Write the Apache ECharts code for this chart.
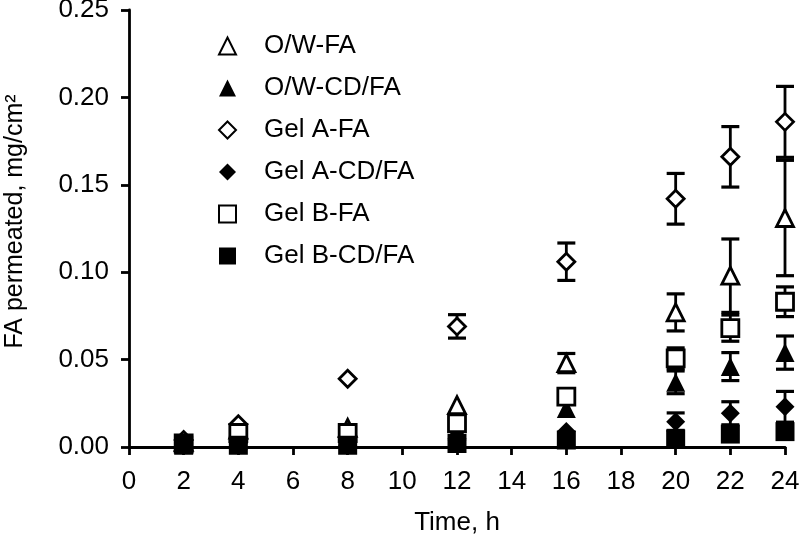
<!DOCTYPE html>
<html>
<head>
<meta charset="utf-8">
<script src="https://cdn.jsdelivr.net/npm/echarts@6/dist/echarts.min.js"></script>
<style>
html,body{margin:0;padding:0;background:#fff;}
#chart{width:799px;height:537px;}
</style>
</head>
<body>
<div id="chart"></div>
<script>
// ---- data ----
const times = [2, 4, 8, 12, 16, 20, 22, 24];
const seriesNames = ['O/W-FA', 'O/W-CD/FA', 'Gel A-FA', 'Gel A-CD/FA', 'Gel B-FA', 'Gel B-CD/FA'];
const owFA     = [0.003, 0.010, 0.011, 0.024, 0.048, 0.077, 0.098, 0.131];
const owFAErr  = [0, 0, 0, 0, 0.0055, 0.0106, 0.021, 0.033];
const owCD     = [0.002, 0.004, 0.006, 0.010, 0.022, 0.037, 0.046, 0.054];
const owCDErr  = [0, 0, 0, 0, 0, 0.0065, 0.008, 0.0095];
const gaFA     = [0.004, 0.013, 0.039, 0.069, 0.106, 0.142, 0.166, 0.186];
const gaFAErr  = [0, 0, 0, 0.0067, 0.0107, 0.0145, 0.0173, 0.0203];
const gaCD     = [0.002, 0.002, 0.003, 0.004, 0.0088, 0.0145, 0.0193, 0.023];
const gaCDErr  = [0, 0, 0, 0, 0, 0.005, 0.0066, 0.0088];
const gbFA     = [0.002, 0.008, 0.008, 0.0136, 0.0288, 0.0507, 0.068, 0.0831];
const gbFAErr  = [0, 0, 0, 0, 0, 0.006, 0.0075, 0.0085];
const gbCD     = [0.001, 0.001, 0.001, 0.002, 0.004, 0.0046, 0.0074, 0.0088];
const gbCDErr  = [0, 0, 0, 0, 0, 0, 0, 0];
const xTicks = [0, 24, 2];      // min, max, interval
const yTicks = [0, 0.25, 0.05]; // min, max, interval

const values = [owFA, owCD, gaFA, gaCD, gbFA, gbCD];
const errors = [owFAErr, owCDErr, gaFAErr, gaCDErr, gbFAErr, gbCDErr];
const symbols = ['triangle', 'triangle', 'diamond', 'diamond', 'rect', 'rect'];
const filled = [false, true, false, true, false, true];

const FONT = '"Liberation Sans", Arial, Helvetica, sans-serif';
const chart = echarts.init(document.getElementById('chart'));

const series = [];
values.forEach((vals, i) => {
  const errData = times.map((t, k) => [t, vals[k], errors[i][k]]);
  series.push({
    type: 'custom',
    name: seriesNames[i] + ' err',
    z: 1,
    silent: true,
    renderItem: function (params, api) {
      const x = api.value(0), y = api.value(1), e = api.value(2);
      if (!e) return null;
      const top = api.coord([x, y + e]);
      const bot = api.coord([x, y - e]);
      const hw = 9;
      return {
        type: 'group',
        children: [
          {type: 'line', shape: {x1: top[0], y1: top[1], x2: bot[0], y2: bot[1]}, style: {stroke: '#000', lineWidth: 2.8}},
          {type: 'line', shape: {x1: top[0] - hw, y1: top[1], x2: top[0] + hw, y2: top[1]}, style: {stroke: '#000', lineWidth: 3.2}},
          {type: 'line', shape: {x1: bot[0] - hw, y1: bot[1], x2: bot[0] + hw, y2: bot[1]}, style: {stroke: '#000', lineWidth: 3.2}}
        ]
      };
    },
    data: errData
  });
});
values.forEach((vals, i) => {
  series.push({
    type: 'scatter',
    name: seriesNames[i],
    z: 3,
    symbol: symbols[i],
    symbolSize: filled[i] ? 19 : 17,
    itemStyle: filled[i]
      ? {color: '#000', borderColor: '#000', borderWidth: 0, opacity: 1}
      : {color: '#fff', borderColor: '#000', borderWidth: 2.8, opacity: 1},
    data: times.map((t, k) => [t, vals[k]])
  });
});

chart.setOption({
  animation: false,
  backgroundColor: '#fff',
  grid: {left: 129, right: 14, top: 10, bottom: 90, containLabel: false, outerBoundsMode: 'none'},
  legend: {
    data: seriesNames,
    orient: 'vertical',
    left: 218,
    top: 33,
    padding: 0,
    itemWidth: 17,
    itemHeight: 17,
    itemGap: 16,
    selectedMode: false,
    textStyle: {fontFamily: FONT, fontSize: 26, color: '#000', lineHeight: 26, padding: [0, 0, 0, 23]}
  },
  xAxis: {
    type: 'value',
    min: xTicks[0], max: xTicks[1], interval: xTicks[2],
    name: 'Time, h',
    nameLocation: 'middle',
    nameGap: 63,
    nameTextStyle: {fontFamily: FONT, fontSize: 26, color: '#000'},
    axisLine: {show: true, onZero: false, lineStyle: {color: '#000', width: 2.8}},
    axisTick: {show: true, length: 8, lineStyle: {color: '#000', width: 2.8}},
    axisLabel: {fontFamily: FONT, fontSize: 26, color: '#000', margin: 22},
    splitLine: {show: false}
  },
  yAxis: {
    type: 'value',
    min: yTicks[0], max: yTicks[1], interval: yTicks[2],
    name: 'FA permeated, mg/cm²',
    nameLocation: 'middle',
    nameGap: 101,
    nameTextStyle: {fontFamily: FONT, fontSize: 25, color: '#000', padding: [0, 0, 0, 14]},
    axisLine: {show: true, onZero: false, lineStyle: {color: '#000', width: 2.8}},
    axisTick: {show: true, length: 8, lineStyle: {color: '#000', width: 2.8}},
    axisLabel: {fontFamily: FONT, fontSize: 26, color: '#000', margin: 20, padding: [6, 0, 0, 0],
      formatter: v => v.toFixed(2)},
    splitLine: {show: false}
  },
  series: series
});
</script>
</body>
</html>
